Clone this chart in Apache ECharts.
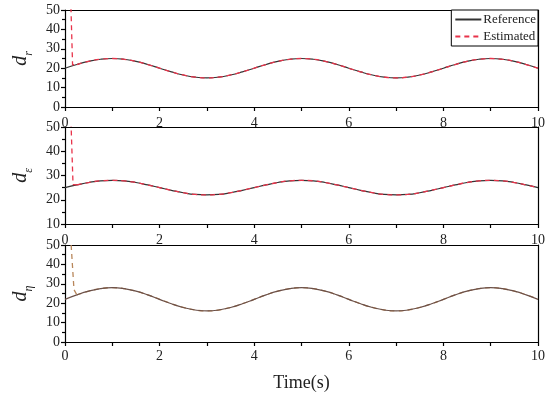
<!DOCTYPE html>
<html>
<head>
<meta charset="utf-8">
<script src="https://cdn.jsdelivr.net/npm/echarts@6/dist/echarts.min.js"></script>
<style>html,body{margin:0;padding:0;background:#fff}#c{width:550px;height:396px}</style>
</head>
<body>
<div id="c"></div>
<script>
// ---- data ----
const time = [0,0.25,0.5,0.75,1,1.25,1.5,1.75,2,2.25,2.5,2.75,3,3.25,3.5,3.75,4,4.25,4.5,4.75,5,5.25,5.5,5.75,6,6.25,6.5,6.75,7,7.25,7.5,7.75,8,8.25,8.5,8.75,9,9.25,9.5,9.75,10];
const refR = [20,21.9,23.5,24.6,25,24.6,23.5,21.9,20,18.1,16.5,15.4,15,15.4,16.5,18.1,20,21.9,23.5,24.6,25,24.6,23.5,21.9,20,18.1,16.5,15.4,15,15.4,16.5,18.1,20,21.9,23.5,24.6,25,24.6,23.5,21.9,20];
const refE = [25,26.1,27.1,27.8,28,27.8,27.1,26.1,25,23.9,22.9,22.2,22,22.2,22.9,23.9,25,26.1,27.1,27.8,28,27.8,27.1,26.1,25,23.9,22.9,22.2,22,22.2,22.9,23.9,25,26.1,27.1,27.8,28,27.8,27.1,26.1,25];
const refH = [22,24.3,26.2,27.5,28,27.5,26.2,24.3,22,19.7,17.8,16.5,16,16.5,17.8,19.7,22,24.3,26.2,27.5,28,27.5,26.2,24.3,22,19.7,17.8,16.5,16,16.5,17.8,19.7,22,24.3,26.2,27.5,28,27.5,26.2,24.3,22];
// initial transient of the estimate (time, value) before it joins the reference
const estStartT_R = [0.12, 0.16];
const estStartV_R = [56, 21.7];
const estStartT_E = [0.12, 0.17];
const estStartV_E = [56, 26.2];
const estStartT_H = [0.13, 0.19];
const estStartV_H = [50, 27];

function pairs(t, v) { return t.map((x, i) => [x, v[i]]); }

const font = "'Liberation Serif','Times New Roman',serif";
const grids = [
  {left: 65, right: 12, top: 10, height: 97},
  {left: 65, right: 12, top: 127, height: 97},
  {left: 65, right: 12, top: 245, height: 97}
];
const yRanges = [[0,50],[10,50],[0,50]];
const names = ['r','ε','η'];

const xAxes = grids.map((g, i) => ({
  type: 'value', gridIndex: i, min: 0, max: 10, interval: 2,
  axisLine: {show: true, onZero: false, lineStyle: {color: '#000', width: 1.2}},
  axisTick: {show: true, inside: false, length: 4, lineStyle: {color: '#000', width: 1.2}},
  minorTick: {show: true, splitNumber: 2, length: 4, lineStyle: {color: '#000', width: 1.2}},
  axisLabel: {color: '#222', fontFamily: font, fontSize: 14, margin: i === 2 ? 7 : 9},
  splitLine: {show: false},
  name: i === 2 ? 'Time(s)' : '', nameLocation: 'middle', nameGap: 32,
  nameTextStyle: {color: '#222', fontFamily: font, fontSize: 18}
}));
// top border lines
grids.forEach((g, i) => xAxes.push({
  type: 'value', gridIndex: i, position: 'top', min: 0, max: 10,
  axisLine: {show: true, onZero: false, lineStyle: {color: '#000', width: 1.2}},
  axisTick: {show: false}, axisLabel: {show: false}, splitLine: {show: false}
}));

const yAxes = grids.map((g, i) => ({
  type: 'value', gridIndex: i, min: yRanges[i][0], max: yRanges[i][1], interval: 10,
  axisLine: {show: true, onZero: false, lineStyle: {color: '#000', width: 1.2}},
  axisTick: {show: true, inside: false, length: 4, lineStyle: {color: '#000', width: 1.2}},
  minorTick: {show: true, splitNumber: 2, length: 3, lineStyle: {color: '#000', width: 1.2}},
  axisLabel: {color: '#222', fontFamily: font, fontSize: 14, margin: 5},
  splitLine: {show: false},
  name: '{d|d}{s|' + names[i] + '}', nameLocation: 'middle', nameGap: 25, nameRotate: 90,
  nameTextStyle: {
    rich: {
      d: {fontFamily: font, fontStyle: 'italic', fontSize: 20, color: '#222', verticalAlign: 'bottom', lineHeight: 20},
      s: {fontFamily: font, fontStyle: 'italic', fontSize: 12, color: '#222', verticalAlign: 'bottom', lineHeight: 14, padding: [0,0,-4,0]}
    }
  }
}));
grids.forEach((g, i) => yAxes.push({
  type: 'value', gridIndex: i, position: 'right', min: yRanges[i][0], max: yRanges[i][1],
  axisLine: {show: true, onZero: false, lineStyle: {color: '#000', width: 1.2}},
  axisTick: {show: false}, axisLabel: {show: false}, splitLine: {show: false}
}));

const refs = [refR, refE, refH];
const starts = [[estStartT_R, estStartV_R], [estStartT_E, estStartV_E], [estStartT_H, estStartV_H]];
const refColors = ['#333', '#333', '#6b5048'];
const estColors = ['#e8334a', '#e8334a', '#b8865a'];

const series = [];
refs.forEach((r, i) => {
  series.push({
    name: 'Reference', type: 'line', xAxisIndex: i, yAxisIndex: i,
    data: pairs(time, r), showSymbol: false, symbol: 'none', smooth: true,
    lineStyle: {color: refColors[i], width: 1.2}, itemStyle: {color: refColors[i]}, z: i === 2 ? 3 : 2, animation: false
  });
  // steady part of the estimate (coincides with reference)
  series.push({
    name: 'Estimated', type: 'line', xAxisIndex: i, yAxisIndex: i,
    data: pairs(time.slice(1), r.slice(1)), showSymbol: false, symbol: 'none', smooth: true,
    lineStyle: {color: estColors[i], width: 1.3, type: [5, 4]}, itemStyle: {color: estColors[i]}, z: i === 2 ? 2 : 3, animation: false
  });
  // initial transient of the estimate
  const st = starts[i];
  series.push({
    name: 'Estimated', type: 'line', xAxisIndex: i, yAxisIndex: i,
    data: pairs(st[0], st[1]).concat([[time[1], r[1]]]), showSymbol: false, symbol: 'none',
    lineStyle: {color: estColors[i], width: 1.3, type: [5, 4]}, itemStyle: {color: estColors[i]}, z: 3, animation: false
  });
});

const chart = echarts.init(document.getElementById('c'), null, {renderer: 'canvas'});
chart.setOption({
  backgroundColor: '#fff',
  animation: false,
  grid: grids,
  xAxis: xAxes,
  yAxis: yAxes,
  legend: {
    data: ['Reference', 'Estimated'], orient: 'vertical', right: 12, top: 10,
    backgroundColor: '#fff', borderColor: '#000', borderWidth: 1, borderRadius: 0,
    padding: [3, 2, 3, 3], itemGap: 4, itemWidth: 26, itemHeight: 1,
    textStyle: {fontFamily: font, fontSize: 13, color: '#222', padding: [0,0,0,-3], lineHeight: 13}
  },
  series: series
});
</script>
</body>
</html>
